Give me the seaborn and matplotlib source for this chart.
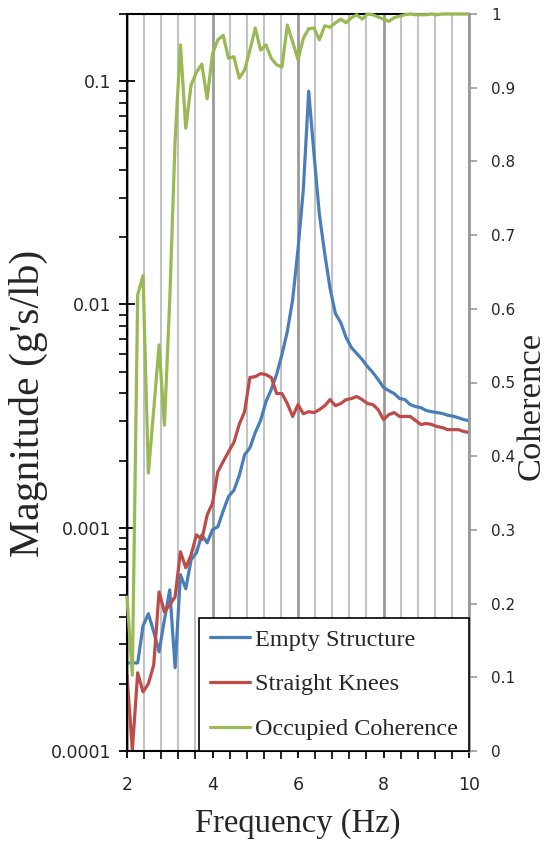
import matplotlib
matplotlib.use('Agg')
import numpy as np
import pandas as pd
import seaborn as sns
import matplotlib.pyplot as plt
from matplotlib.ticker import MultipleLocator, LogLocator, FixedLocator, FuncFormatter, NullFormatter

# frequency grid (Hz)
freq = [2.0, 2.125, 2.25, 2.375, 2.5, 2.625, 2.75, 2.875,
        3.0, 3.125, 3.25, 3.375, 3.5, 3.625, 3.75, 3.875,
        4.0, 4.125, 4.25, 4.375, 4.5, 4.625, 4.75, 4.875,
        5.0, 5.125, 5.25, 5.375, 5.5, 5.625, 5.75, 5.875,
        6.0, 6.125, 6.25, 6.375, 6.5, 6.625, 6.75, 6.875,
        7.0, 7.125, 7.25, 7.375, 7.5, 7.625, 7.75, 7.875,
        8.0, 8.125, 8.25, 8.375, 8.5, 8.625, 8.75, 8.875,
        9.0, 9.125, 9.25, 9.375, 9.5, 9.625, 9.75, 9.875, 10.0]

# magnitude (g's/lb)
empty_structure = [2.48e-4, 2.48e-4, 2.48e-4, 3.64e-4, 4.12e-4, 3.42e-4, 2.78e-4, 3.87e-4,
                   5.27e-4, 2.36e-4, 6.16e-4, 5.33e-4, 7.19e-4, 7.73e-4, 9.30e-4, 8.56e-4,
                   9.80e-4, 1.01e-3, 1.19e-3, 1.38e-3, 1.47e-3, 1.71e-3, 2.12e-3, 2.28e-3,
                   2.67e-3, 3.02e-3, 3.67e-3, 4.16e-3, 4.86e-3, 5.97e-3, 7.57e-3, 1.05e-2,
                   1.77e-2, 3.28e-2, 9.02e-2, 4.71e-2, 2.53e-2, 1.69e-2, 1.18e-2, 9.11e-3,
                   8.30e-3, 7.11e-3, 6.41e-3, 6.03e-3, 5.67e-3, 5.27e-3, 4.96e-3, 4.61e-3,
                   4.25e-3, 4.11e-3, 3.99e-3, 3.79e-3, 3.75e-3, 3.56e-3, 3.49e-3, 3.45e-3,
                   3.35e-3, 3.31e-3, 3.28e-3, 3.25e-3, 3.19e-3, 3.16e-3, 3.11e-3, 3.05e-3, 3.02e-3]

straight_knees = [2.19e-4, 1.01e-4, 2.24e-4, 1.84e-4, 2.00e-4, 2.43e-4, 5.16e-4, 4.20e-4,
                  4.52e-4, 4.90e-4, 7.81e-4, 6.62e-4, 7.57e-4, 9.30e-4, 8.84e-4, 1.14e-3,
                  1.29e-3, 1.78e-3, 1.98e-3, 2.19e-3, 2.41e-3, 2.90e-3, 3.31e-3, 4.71e-3,
                  4.75e-3, 4.90e-3, 4.85e-3, 4.71e-3, 3.99e-3, 3.99e-3, 3.60e-3, 3.15e-3,
                  3.56e-3, 3.24e-3, 3.31e-3, 3.28e-3, 3.38e-3, 3.52e-3, 3.75e-3, 3.52e-3,
                  3.60e-3, 3.75e-3, 3.79e-3, 3.87e-3, 3.75e-3, 3.60e-3, 3.56e-3, 3.38e-3,
                  3.05e-3, 3.21e-3, 3.28e-3, 3.15e-3, 3.15e-3, 3.15e-3, 3.02e-3, 2.90e-3,
                  2.93e-3, 2.90e-3, 2.84e-3, 2.81e-3, 2.75e-3, 2.75e-3, 2.75e-3, 2.70e-3, 2.67e-3]

# coherence (0-1)
occupied_coherence = [0.209, 0.103, 0.619, 0.645, 0.377, 0.463, 0.551, 0.442,
                      0.612, 0.829, 0.958, 0.845, 0.904, 0.921, 0.932, 0.885,
                      0.946, 0.965, 0.971, 0.940, 0.942, 0.913, 0.924, 0.951,
                      0.981, 0.951, 0.958, 0.940, 0.931, 0.928, 0.985, 0.962,
                      0.938, 0.967, 0.980, 0.981, 0.965, 0.984, 0.982, 0.988,
                      0.993, 0.988, 0.995, 0.999, 0.993, 1.0, 0.999, 0.996,
                      0.993, 0.990, 0.995, 0.997, 0.999, 1.0, 0.999, 0.999,
                      0.999, 1.0, 0.999, 1.0, 1.0, 1.0, 1.0, 1.0, 1.0]

left_ticks = [0.0001, 0.001, 0.01, 0.1]
left_labels = ["0.0001", "0.001", "0.01", "0.1"]
right_ticks = [0, 0.1, 0.2, 0.3, 0.4, 0.5, 0.6, 0.7, 0.8, 0.9, 1]
right_labels = ["0", "0.1", "0.2", "0.3", "0.4", "0.5", "0.6", "0.7", "0.8", "0.9", "1"]

df = pd.DataFrame({"freq": freq, "empty": empty_structure,
                   "knees": straight_knees, "coh": occupied_coherence})

sns.set_style("white")
plt.rcParams['font.family'] = ['DejaVu Sans']
serif = 'Liberation Serif'

fig = plt.figure(figsize=(5.54, 8.42), dpi=100)
ax = fig.add_axes([127/554, 1 - 751/842, 342/554, 737/842])
ax2 = ax.twinx()

blue = '#4a7ebb'
red = '#be4b48'
green = '#98b954'

sns.lineplot(data=df, x="freq", y="empty", ax=ax, color=blue, lw=2.3, label="Empty Structure")
sns.lineplot(data=df, x="freq", y="knees", ax=ax, color=red, lw=2.3, label="Straight Knees")
sns.lineplot(data=df, x="freq", y="coh", ax=ax2, color=green, lw=2.3, label="Occupied Coherence",
             clip_on=False)

for a in (ax, ax2):
    if a.get_legend() is not None:
        a.get_legend().remove()

ax.set_yscale('log')
ax.set_xlim(2, 10)
ax.set_ylim(1e-4, 0.2)
ax2.set_ylim(0, 1)

# x grid: light every 0.4 Hz, darker every 2 Hz
ax.xaxis.set_major_locator(MultipleLocator(2))
ax.xaxis.set_minor_locator(MultipleLocator(0.4))
ax.grid(False)
ax2.grid(False)
ax.grid(which='minor', axis='x', color='#c3c3c3', lw=1.5)
ax.grid(which='major', axis='x', color='#9a9a9a', lw=2)
ax.set_axisbelow(True)

ax.yaxis.set_major_locator(FixedLocator(left_ticks))
ax.yaxis.set_major_formatter(FuncFormatter(lambda v, p: left_labels[left_ticks.index(v)] if v in left_ticks else ""))
ax.yaxis.set_minor_locator(LogLocator(base=10, subs=range(2, 10)))
ax.yaxis.set_minor_formatter(NullFormatter())

ax2.yaxis.set_major_locator(FixedLocator(right_ticks))
ax2.set_yticklabels(right_labels)

ax.tick_params(axis='y', which='major', direction='inout', length=11, width=1.3, color='black',
               labelsize=12.5, pad=6, left=True)
ax.tick_params(axis='y', which='minor', direction='out', length=6, width=1.2, color='black', left=True)
ax.tick_params(axis='x', which='major', direction='inout', length=10, width=1.3, color='black',
               labelsize=12.5, pad=13, bottom=True)
ax.tick_params(axis='x', which='minor', direction='out', length=6, width=1.2, color='black', bottom=True)
ax2.tick_params(axis='y', which='major', direction='out', length=6, width=1.2, color='#9a9a9a',
                labelsize=11, pad=10, right=True)

for s in ('left', 'bottom', 'top'):
    ax.spines[s].set_color('black')
    ax.spines[s].set_linewidth(1.5)
ax.spines['right'].set_visible(False)
for s in ('left', 'bottom', 'top'):
    ax2.spines[s].set_visible(False)
ax2.spines['right'].set_color('#9a9a9a')
ax2.spines['right'].set_linewidth(2)

ax.set_xlabel("Frequency (Hz)", family=serif, fontsize=23.5, labelpad=10)
ax.set_ylabel("Magnitude (g's/lb)", family=serif, fontsize=30)
ax.yaxis.set_label_coords((48 - 127) / 342, (751 - 403) / 737)
ax2.set_ylabel("Coherence", family=serif, fontsize=24.8)
ax2.yaxis.set_label_coords((516 - 127) / 342, (751 - 406) / 737)

handles = ax.get_lines()[:2] + ax2.get_lines()[:1]
labels = ["Empty Structure", "Straight Knees", "Occupied Coherence"]
leg = ax2.legend(handles, labels, loc='lower right', bbox_to_anchor=(1, 0), borderaxespad=0,
                 frameon=True, fancybox=False, edgecolor='black', framealpha=1,
                 prop={'family': serif, 'size': 17.5}, handlelength=1.65, handletextpad=0.2,
                 labelspacing=0.93, borderpad=0.45)
leg.get_frame().set_linewidth(1.2)

fig.savefig("out.png", dpi=100)
